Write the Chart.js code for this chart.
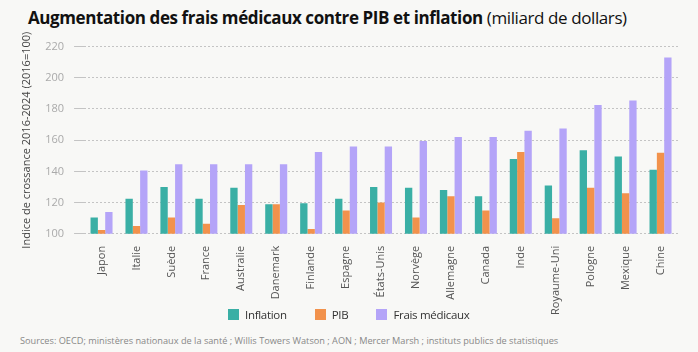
<!DOCTYPE html>
<html>
<head>
<meta charset="utf-8">
<script src="https://cdn.jsdelivr.net/npm/chart.js@4"></script>
<style>
  body { margin: 0; background: #f8f8f6; font-family: "Open Sans", sans-serif; }
  #wrap { position: relative; width: 698px; height: 352px; overflow: hidden; }
  #title { position: absolute; left: 28px; top: 6px; font-size: 17px; color: #111; white-space: nowrap; letter-spacing: -0.4px; }
  #title b { font-weight: 700; }
  #src { position: absolute; left: 20px; top: 334px; font-size: 9.2px; color: #888; white-space: nowrap; }
  #box { position: absolute; left: 0; top: 30px; width: 698px; height: 293px; }
  #legend { position: absolute; left: 228px; top: 307px; font-size: 11.5px; letter-spacing: -0.3px; color: #333; white-space: nowrap; }
  #legend span.it { display: inline-flex; align-items: center; margin-right: 28px; }
  #legend i { display: inline-block; width: 11px; height: 11px; margin-right: 6px; }
</style>
</head>
<body>
<div id="wrap">
  <div id="title"><b>Augmentation des frais médicaux contre PIB et inflation</b> (miliard de dollars)</div>
  <div id="box"><canvas id="myChart"></canvas></div>
  <div id="legend"></div>
  <div id="src">Sources: OECD; ministères nationaux de la santé ; Willis Towers Watson ; AON ; Mercer Marsh ; instituts publics de statistiques</div>
</div>
<script>
// données
const pays = ['Japon', 'Italie', 'Suède', 'France', 'Australie', 'Danemark', 'Finlande', 'Espagne', 'États-Unis',
  'Norvège', 'Allemagne', 'Canada', 'Inde', 'Royaume-Uni', 'Pologne', 'Mexique', 'Chine'];
const inflation = [110.5, 122.5, 130, 122.5, 129.5, 119, 119.5, 122.5, 130, 129.5, 128, 124, 148, 131, 153.5, 149.5, 141];
const pib = [102.5, 105, 110.5, 106.5, 118.5, 119, 103, 115, 120, 110.5, 124, 115, 152.5, 110, 129.5, 126, 152];
const fraisMedicaux = [114, 140.5, 144.5, 144.5, 144.5, 144.5, 152.5, 156, 156, 159.5, 162, 162, 166, 167.5, 182.5, 185.5, 213];
const ticksY = [100, 120, 140, 160, 180, 200, 220];

const ctx = document.getElementById('myChart').getContext('2d');
const myChart = new Chart(ctx, {
  type: 'bar',
  data: {
    labels: pays,
    datasets: [
      { label: 'Inflation', data: inflation, backgroundColor: '#3aafa5' },
      { label: 'PIB', data: pib, backgroundColor: '#f2924c' },
      { label: 'Frais médicaux', data: fraisMedicaux, backgroundColor: '#b4a4f8' }
    ]
  },
  options: {
    responsive: true,
    maintainAspectRatio: false,
    animation: false,
    layout: { padding: { left: 18, right: 20, top: 8, bottom: 4 } },
    datasets: { bar: { barPercentage: 1, categoryPercentage: 0.63 } },
    plugins: {
      legend: { display: false },
      tooltip: { enabled: false }
    },
    scales: {
      x: {
        grid: { display: false },
        border: { display: false },
        ticks: { color: '#555', maxRotation: 90, minRotation: 90, padding: 4, font: { family: 'Open Sans', size: 11 } }
      },
      y: {
        min: 100,
        max: 220,
        afterBuildTicks: axis => { axis.ticks = ticksY.map(v => ({ value: v })); },
        border: { display: false, dash: [2, 2] },
        grid: { color: '#c4c4c4', drawTicks: true, tickLength: 10 },
        ticks: { color: '#aaa', padding: 10, font: { family: 'Open Sans', size: 11 } },
        title: { display: true, text: 'Indice de crossance 2016-2024 (2016=100)', color: '#444', padding: 2, font: { family: 'Open Sans', size: 11 } }
      }
    }
  }
});

// légende en HTML, construite à partir des jeux de données
document.getElementById('legend').innerHTML = myChart.data.datasets
  .map(d => '<span class="it"><i style="background:' + d.backgroundColor + '"></i>' + d.label + '</span>')
  .join('');
</script>
</body>
</html>
